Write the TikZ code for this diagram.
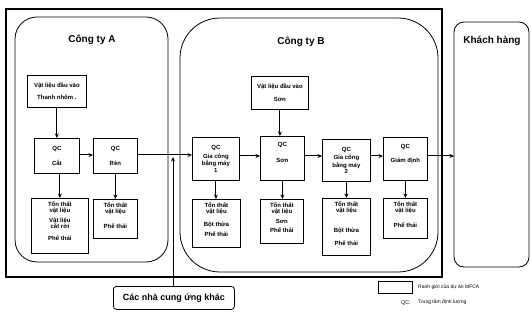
\documentclass[tikz,border=0pt]{standalone}
\usepackage{fontspec}
\setmainfont{Liberation Sans}
\usetikzlibrary{arrows.meta}
\begin{document}
\begin{tikzpicture}[x=1pt,y=-1pt,
  box/.style={draw,line width=0.8pt,inner sep=0pt,anchor=north west},
  tx/.style={font=\fontsize{6}{6.6}\selectfont\bfseries,align=center,inner sep=0pt},
  title/.style={font=\fontsize{10}{12}\selectfont\bfseries,inner sep=0pt},
  arr/.style={-{Stealth[length=4.5pt,width=4pt]},line width=1pt},
  ln/.style={line width=0.8pt}]
\useasboundingbox (0,0) rectangle (531,321);
% boundaries
\draw[line width=1.8pt] (6,9) rectangle (442,277);
\draw[ln,rounded corners=22pt] (15,17) rectangle (168,262);
\draw[ln,rounded corners=40pt] (180,18) rectangle (438,272);
\draw[ln,rounded corners=10pt] (454,22) rectangle (529,267);
\node[title] (ta) at (92,40) {Công ty A};
\node[title] (tb) at (301,42) {Công ty B};
\node[title] (tk) at (492,41) {Khách hàng};
% Company A
\node[box,minimum width=59pt,minimum height=32pt] (inA) at (27,75) {};
\node[tx] (inAt) at (inA.center) {Vật liệu đầu vào\\[6pt]Thanh nhôm .};
\node[box,minimum width=45pt,minimum height=35pt] (cat) at (34,138) {};
\node[tx] (catt) at (cat.center) {QC\\[8pt]Cắt};
\node[box,minimum width=44pt,minimum height=35pt] (ren) at (93,138) {};
\node[tx] (rent) at (ren.center) {QC\\[8pt]Rèn};
\node[box,minimum width=57pt,minimum height=55pt] (la1) at (31,198) {};
\node[tx,anchor=north] (la1t) at ([yshift=-3pt]la1.north) {Tổn thất\\vật liệu\\[3pt]Vật liệu\\cắt rời\\[5pt]Phế thải};
\node[box,minimum width=44pt,minimum height=39pt] (la2) at (93,199) {};
\node[tx,anchor=north] (la2t) at ([yshift=-3pt]la2.north) {Tổn thất\\vật liệu\\[8pt]Phế thải};
% Company B
\node[box,minimum width=57pt,minimum height=33pt] (inB) at (251,76) {};
\node[tx] (inBt) at (inB.center) {Vật liệu đầu vào\\[6pt]Sơn};
\node[box,minimum width=47pt,minimum height=43pt] (gc1) at (192,137) {};
\node[tx] (gc1t) at (gc1.center) {QC\\[2pt]Gia công\\bằng máy\\1};
\node[box,minimum width=44pt,minimum height=44pt] (son) at (260,136) {};
\node[tx] (sont) at (son.center) {QC\\[9pt]Sơn\\[5pt]\mbox{}};
\node[box,minimum width=48pt,minimum height=42pt] (gc2) at (322,139) {};
\node[tx] (gc2t) at (gc2.center) {QC\\[2pt]Gia công\\bằng máy\\2};
\node[box,minimum width=44pt,minimum height=43pt] (gd) at (383,137) {};
\node[tx] (gdt) at (gd.center) {QC\\[8pt]Giám định\\[4pt]\mbox{}};
\node[box,minimum width=48pt,minimum height=48pt] (lb1) at (192,199) {};
\node[tx,anchor=north] (lb1t) at ([yshift=-3pt]lb1.north) {Tổn thất\\vật liệu\\[6pt]Bột thừa\\[4pt]Phế thải};
\node[box,minimum width=43pt,minimum height=44pt] (lb2) at (260,199) {};
\node[tx,anchor=north] (lb2t) at ([yshift=-3pt]lb2.north) {Tổn thất\\vật liệu\\[3pt]Sơn\\[3pt]Phế thải};
\node[box,minimum width=48pt,minimum height=57pt] (lb3) at (322,198) {};
\node[tx,anchor=north] (lb3t) at ([yshift=-3pt]lb3.north) {Tổn thất\\vật liệu\\[13pt]Bột thừa\\[7pt]Phế thải};
\node[box,minimum width=44pt,minimum height=40pt] (lb4) at (383,198) {};
\node[tx,anchor=north] (lb4t) at ([yshift=-3pt]lb4.north) {Tổn thất\\vật liệu\\[8pt]Phế thải};
% supplier
\node[draw,ln,rounded corners=3pt,minimum width=121pt,minimum height=23pt,inner sep=0pt,anchor=north west,font=\fontsize{9}{11}\selectfont\bfseries] (sup) at (113,286) {Các nhà cung ứng khác};
\coordinate (supin) at (173,157);
% arrows
\draw[arr] (inA.south -| cat.north) -- (cat.north);
\draw[arr] (cat.east |- 0,155) -- (ren.west |- 0,155);
\draw[arr] (cat.south -| la1.north) -- (la1.north);
\draw[arr] (ren.south) -- (la2.north -| ren.south);
\draw[arr] (ren.east |- 0,155) -- (gc1.west |- 0,155);
\draw[arr] (sup.north -| supin) -- (supin);
\draw[arr] (inB.south) -- (son.north -| inB.south);
\draw[arr] (gc1.east |- 0,156) -- (son.west |- 0,156);
\draw[arr] (son.east |- 0,156) -- (gc2.west |- 0,156);
\draw[arr] (gc2.east |- 0,156) -- (gd.west |- 0,156);
\draw[arr] (gd.east |- 0,156) -- (454,156);
\draw[arr] (gc1.south) -- (lb1.north -| gc1.south);
\draw[arr] (son.south) -- (lb2.north -| son.south);
\draw[arr] (gc2.south) -- (lb3.north -| gc2.south);
\draw[arr] (gd.south) -- (lb4.north -| gd.south);
% legend
\node[draw,line width=1.3pt,minimum width=34pt,minimum height=12pt,inner sep=0pt,anchor=north west] (leg) at (378,281) {};
\node[tx,anchor=west,font=\fontsize{5}{6}\selectfont] (legt) at (418,287) {Ranh giới của dự án MFCA};
\node[tx,anchor=east,font=\fontsize{5.5}{6}\selectfont] (qc) at (411,303) {QC:};
\node[tx,anchor=west,font=\fontsize{5}{6}\selectfont] (qct) at (418,302) {Trung tâm định lượng};
\end{tikzpicture}
\end{document}
